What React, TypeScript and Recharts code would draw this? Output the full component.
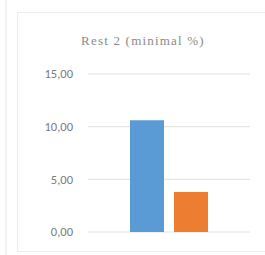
import { BarChart, Bar, XAxis, YAxis, CartesianGrid } from "recharts";

const categories = ["Rest 2"];
const seriesA = [10.6];
const seriesB = [3.8];
const yTicks = [0, 5, 10, 15];
const title = "Rest 2 (minimal %)";

const data = categories.map((name, i) => ({ name, a: seriesA[i], b: seriesB[i] }));

const fmt = (v: number) => v.toFixed(2).replace(".", ",");

export default function App() {
  return (
    <div
      style={{
        position: "absolute",
        left: 0,
        top: 0,
        width: 265,
        height: 255,
        background: "#fff",
        fontFamily: "Carlito, 'Liberation Sans', sans-serif",
        overflow: "hidden",
      }}
    >
      <div style={{ position: "absolute", left: 5, top: 0, width: 2, height: 255, background: "#f2f2f2" }} />
      <div
        style={{
          position: "absolute",
          left: 17,
          top: 12,
          width: 260,
          height: 238,
          border: "1px solid #ececec",
        }}
      />
      <div
        style={{
          position: "absolute",
          left: 17,
          width: 252,
          top: 33,
          textAlign: "center",
          fontSize: 13,
          letterSpacing: 1.2,
          color: "#8a8a8a",
          fontFamily: "'Liberation Serif', serif",
        }}
      >
        {title}
      </div>
      <div style={{ position: "absolute", left: 0, top: 0 }}>
        <BarChart
          width={265}
          height={255}
          data={data}
          margin={{ top: 74, right: 15, left: 0, bottom: 23 }}
          barGap={10}
          barSize={34}
        >
          <CartesianGrid vertical={false} stroke="#e0e0e0" />
          <XAxis dataKey="name" hide />
          <YAxis
            width={88}
            domain={[0, 15]}
            ticks={yTicks}
            tickFormatter={fmt}
            axisLine={false}
            tickLine={false}
            tickSize={0}
            tickMargin={15}
            tick={{ fontSize: 12.5, fill: "#7a7a7a" }}
          />
          <Bar dataKey="a" fill="#5B9BD5" isAnimationActive={false} />
          <Bar dataKey="b" fill="#ED7D31" isAnimationActive={false} />
        </BarChart>
      </div>
    </div>
  );
}
